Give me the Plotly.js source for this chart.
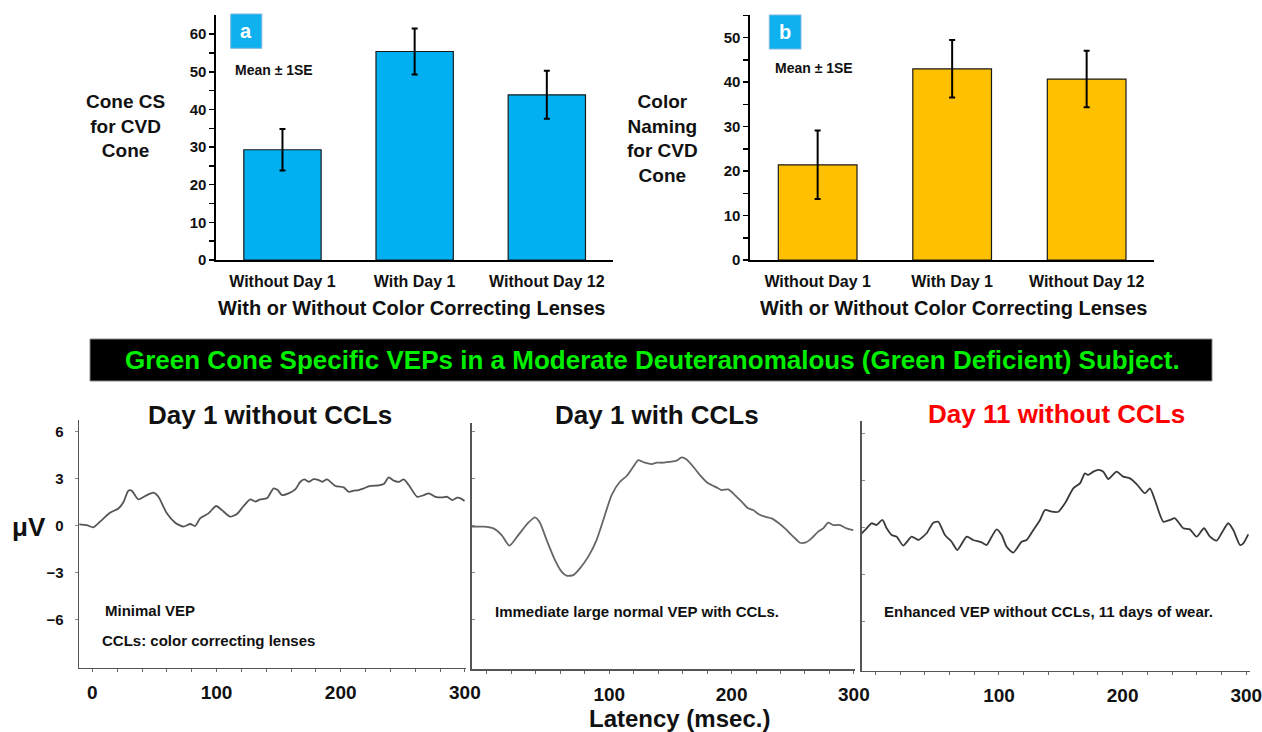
<!DOCTYPE html>
<html>
<head>
<meta charset="utf-8">
<script src="https://cdn.plot.ly/plotly-3.0.1.min.js"></script>
<style>
html,body{margin:0;padding:0;background:#fff;}
#chart{width:1262px;height:732px;}
</style>
</head>
<body>
<div id="chart"></div>
<script>
// ---------- DATA ----------
const categories = ['Without Day 1', 'With Day 1', 'Without Day 12'];
const coneCS = [29.3, 55.4, 43.9];
const coneCSErr = [5.5, 6.1, 6.4];
const colorNaming = [21.4, 43.0, 40.7];
const colorNamingErr = [7.7, 6.45, 6.35];

const barTicks = [0, 5, 10, 15, 20, 25, 30, 35, 40, 45, 50, 55, 60];
const vepYTicks = [-6, -3, 0, 3, 6];
const latencyTicks = [0, 20, 40, 60, 80, 100, 120, 140, 160, 180, 200, 220, 240, 260, 280, 300];

// Day 1 without CCLs
const day1WithoutLat = [-11.3, -4.6, 0.8, 6.2, 14.2, 21, 25, 29, 31.7, 37, 42.5, 49.2, 53.2, 60, 66.7, 73.4, 78.8, 82.8, 86.8, 93.5, 99.7, 104.3, 111, 116.4, 121.8, 127.2, 131.2, 135.2, 140.6, 146, 149.2, 152.7, 158, 163.4, 167.5, 170.7, 174.2, 178.2, 182.3, 185, 189, 195.7, 202.4, 206.5, 210.5, 214.5, 218.5, 224, 230.6, 234.7, 238.7, 242.7, 246.8, 250.8, 254.8, 261.6, 267, 271, 276.3, 281.7, 285.8, 289.8, 293.8, 296.5, 299.7];
const day1WithoutAmp = [0.09, 0.04, -0.1, 0.26, 0.83, 1.1, 1.5, 2.24, 2.24, 1.68, 1.9, 2.11, 1.85, 0.79, 0.19, -0.06, 0.11, -0.02, 0.47, 0.79, 1.26, 1.0, 0.58, 0.75, 1.26, 1.68, 1.54, 1.68, 1.75, 2.39, 2.28, 1.96, 2.07, 2.32, 2.81, 2.96, 2.81, 2.98, 2.92, 2.81, 2.96, 2.54, 2.45, 2.17, 2.24, 2.28, 2.39, 2.54, 2.58, 2.67, 3.09, 2.88, 2.81, 2.96, 2.6, 1.85, 1.96, 2.07, 1.85, 1.81, 1.85, 1.64, 1.79, 1.75, 1.58];

// Day 1 with CCLs
const day1WithLat = [-12.5, -3, 5.2, 12, 18.3, 25.6, 33.8, 39.2, 43.3, 48.8, 55.6, 61, 65.1, 70.6, 76, 82.8, 89.6, 95.1, 101.9, 108.7, 114.2, 119.6, 123.7, 129.2, 134.6, 138.7, 144.1, 149.6, 155, 159.1, 163.2, 168.7, 174.1, 180.9, 187.7, 191.8, 197.3, 202.7, 208.2, 213.6, 217.7, 221.8, 227.2, 232.7, 238.1, 243.6, 250.4, 255.9, 260, 265.4, 270.8, 274.9, 279, 283.1, 288.6, 294, 299.5];
const day1WithAmp = [-0.06, -0.06, -0.17, -0.6, -1.28, -0.6, 0.19, 0.53, 0.19, -0.92, -2.2, -2.94, -3.2, -3.16, -2.73, -1.98, -0.92, 0.36, 1.96, 2.81, 3.18, 3.77, 4.2, 4.03, 3.94, 4.03, 4.03, 4.09, 4.16, 4.37, 4.24, 3.77, 3.24, 2.71, 2.45, 2.28, 2.32, 1.96, 1.54, 1.11, 1.0, 0.75, 0.58, 0.47, 0.19, -0.17, -0.7, -1.09, -1.09, -0.81, -0.38, -0.17, 0.19, 0.04, 0.04, -0.17, -0.28];

// Day 11 without CCLs
const day11WithoutLat = [-11, -7, -3, 1.1, 5.7, 9.2, 13.2, 17.3, 22.6, 29.4, 34.8, 41.5, 46.9, 50.9, 56.3, 61.7, 66.3, 73.9, 79.2, 86, 90, 94.1, 98.1, 102.2, 106.2, 111.6, 118.3, 122.4, 127.8, 133.2, 137.2, 142.6, 148, 153.4, 160.1, 165.5, 169.5, 172.2, 176.3, 180.3, 184.4, 188.4, 195.1, 200.5, 205.9, 211.3, 218, 222.1, 226.1, 232.9, 238.3, 242.3, 249.1, 254.4, 259.8, 265.8, 270.6, 276, 280, 285.4, 289.5, 294.9, 297.6, 301.6];
const day11WithoutAmp = [-0.38, -0.06, 0.26, 0.15, 0.47, -0.06, -0.49, -0.6, -1.17, -0.6, -0.81, -0.38, 0.3, 0.36, -0.49, -0.92, -1.45, -0.6, -0.81, -0.96, -1.13, -0.6, -0.13, -0.49, -1.24, -1.62, -0.92, -0.81, -0.17, 0.47, 1.11, 1.0, 1.0, 1.54, 2.49, 2.81, 3.45, 3.35, 3.56, 3.67, 3.56, 3.09, 3.56, 3.24, 3.13, 2.77, 2.17, 2.49, 1.75, 0.36, 0.47, 0.58, -0.06, -0.13, -0.6, -0.06, -0.6, -0.85, -0.38, 0.26, -0.17, -1.13, -1.02, -0.45];

// ---------- LAYOUT HELPERS ----------
const W = 1262, H = 732;
const px = p => p / W;
const py = p => 1 - p / H;
const FONT = 'Liberation Sans, Arial, Helvetica, sans-serif';

const barTickText = barTicks.map(v => (v % 10 === 0 ? String(v) : ''));
const latText = (showZero) => latencyTicks.map(v => (v % 100 === 0 && (showZero || v !== 0)) ? String(v) : '');

const traces = [
  {
    type: 'bar', x: categories, y: coneCS, xaxis: 'x', yaxis: 'y',
    width: 0.585,
    marker: {color: '#00b0f0', line: {color: '#1a1a1a', width: 1.2}},
    error_y: {type: 'data', array: coneCSErr, visible: true, color: '#000', thickness: 2, width: 3},
    hoverinfo: 'x+y'
  },
  {
    type: 'bar', x: categories, y: colorNaming, xaxis: 'x2', yaxis: 'y2',
    width: 0.585,
    marker: {color: '#ffc000', line: {color: '#1a1a1a', width: 1.2}},
    error_y: {type: 'data', array: colorNamingErr, visible: true, color: '#000', thickness: 2, width: 3},
    hoverinfo: 'x+y'
  },
  {type: 'scatter', mode: 'lines', x: day1WithoutLat, y: day1WithoutAmp, xaxis: 'x3', yaxis: 'y3',
   line: {color: '#555', width: 1.8, shape: 'spline', smoothing: 0.6}},
  {type: 'scatter', mode: 'lines', x: day1WithLat, y: day1WithAmp, xaxis: 'x4', yaxis: 'y4',
   line: {color: '#666', width: 1.8, shape: 'spline', smoothing: 0.6}},
  {type: 'scatter', mode: 'lines', x: day11WithoutLat, y: day11WithoutAmp, xaxis: 'x5', yaxis: 'y5',
   line: {color: '#3a3a3a', width: 1.8, shape: 'spline', smoothing: 0.6}}
];

const barX = (dom, anchor) => ({
  domain: dom, anchor: anchor, range: [-0.5, 2.5], type: 'category',
  showline: true, linecolor: '#000', linewidth: 2, ticks: '', showgrid: false, zeroline: false,
  tickfont: {family: FONT, size: 16, color: '#111', weight: 'bold'}, ticklabelstandoff: 6, fixedrange: true
});
const barY = (dom, anchor, top) => ({
  domain: dom, anchor: anchor, range: [0, top],
  showline: true, linecolor: '#000', linewidth: 2, ticks: 'outside', ticklen: 5, tickwidth: 1.5, tickcolor: '#000',
  tickvals: barTicks, ticktext: barTickText, showgrid: false, zeroline: false,
  tickfont: {family: FONT, size: 15, color: '#111', weight: 'bold'}, ticklabelstandoff: 0, fixedrange: true
});
const vepX = (dom, anchor, range, showZero) => ({
  domain: dom, anchor: anchor, range: range,
  showline: true, linecolor: '#555', linewidth: 1.6, ticks: 'outside', ticklen: 3, tickwidth: 1, tickcolor: '#666',
  tickvals: latencyTicks, ticktext: latText(showZero), showgrid: false, zeroline: false,
  ticklabeloverflow: 'allow',
  tickfont: {family: FONT, size: 19, color: '#111', weight: 'bold'}, ticklabelstandoff: 4, fixedrange: true
});
const vepY = (dom, anchor, range, labels) => ({
  domain: dom, anchor: anchor, range: range,
  showline: true, linecolor: '#555', linewidth: 1.6, ticks: labels ? 'outside' : 'inside', ticklen: 3, tickwidth: 1, tickcolor: '#888',
  tickvals: vepYTicks, showticklabels: labels, showgrid: false, zeroline: false,
  tickfont: {family: FONT, size: 15, color: '#111', weight: 'bold'}, ticklabelstandoff: 8, fixedrange: true
});

const ann = (text, x, y, opts = {}) => Object.assign({
  text: text, x: px(x), y: py(y), xref: 'paper', yref: 'paper', showarrow: false,
  xanchor: 'center', yanchor: 'middle',
  font: {family: FONT, size: 15, color: '#111', weight: 'bold'}
}, opts);

const layout = {
  width: W, height: H,
  margin: {l: 0, r: 0, t: 0, b: 0},
  paper_bgcolor: '#fff', plot_bgcolor: 'rgba(0,0,0,0)',
  showlegend: false,
  font: {family: FONT, color: '#111'},
  xaxis: barX([px(216.4), px(612.9)], 'y'),
  yaxis: barY([py(260), py(15)], 'x', 65.1),
  xaxis2: barX([px(750.4), px(1153.9)], 'y2'),
  yaxis2: barY([py(260), py(15)], 'x2', 55.1),
  xaxis3: vepX([px(79.3), px(466)], 'y3', [-10.5, 300.9], true),
  yaxis3: vepY([py(667.7), py(420)], 'x3', [-9.08, 6.76], true),
  xaxis4: vepX([px(471.7), px(855)], 'y4', [-12.5, 300.9], false),
  yaxis4: vepY([py(669.3), py(422.7)], 'x4', [-9.19, 6.59], false),
  xaxis5: vepX([px(861.7), px(1250)], 'y5', [-11, 303], false),
  yaxis5: vepY([py(670.7), py(420.7)], 'x5', [-9.17, 6.82], false),
  shapes: [
    {type: 'rect', xref: 'paper', yref: 'paper', x0: px(230.7), x1: px(261.8), y0: py(48.3), y1: py(14),
     fillcolor: '#0fb0ee', line: {color: '#7fb8e0', width: 1}},
    {type: 'rect', xref: 'paper', yref: 'paper', x0: px(769.3), x1: px(801), y0: py(49), y1: py(15),
     fillcolor: '#0fb0ee', line: {color: '#7fb8e0', width: 1}},
    {type: 'rect', xref: 'paper', yref: 'paper', x0: px(90), x1: px(1212), y0: py(381), y1: py(339),
     fillcolor: '#000', line: {color: '#888', width: 1}}
  ],
  annotations: [
    ann('a', 246.3, 31, {font: {family: FONT, size: 20, color: '#fff', weight: 'bold'}}),
    ann('b', 785.2, 32, {font: {family: FONT, size: 20, color: '#fff', weight: 'bold'}}),
    ann('Mean ± 1SE', 233, 70, {xanchor: 'left', font: {family: FONT, size: 14, color: '#111', weight: 'bold'}}),
    ann('Mean ± 1SE', 773, 68, {xanchor: 'left', font: {family: FONT, size: 14, color: '#111', weight: 'bold'}}),
    ann('Cone CS<br>for CVD<br>Cone', 125.4, 126, {font: {family: FONT, size: 19, color: '#111', weight: 'bold'}}),
    ann('Color<br>Naming<br>for CVD<br>Cone', 663, 138, {font: {family: FONT, size: 19, color: '#111', weight: 'bold'}}),
    ann('With or Without Color Correcting Lenses', 411, 308, {font: {family: FONT, size: 20, color: '#111', weight: 'bold'}}),
    ann('With or Without Color Correcting Lenses', 953, 308, {font: {family: FONT, size: 20, color: '#111', weight: 'bold'}}),
    ann('Green Cone Specific VEPs in a Moderate Deuteranomalous (Green Deficient) Subject.', 652, 360,
        {font: {family: FONT, size: 26, color: '#00ee00', weight: 'bold'}}),
    ann('Day 1 without CCLs', 270, 415, {font: {family: FONT, size: 26, color: '#111', weight: 'bold'}}),
    ann('Day 1 with CCLs', 656.7, 415, {font: {family: FONT, size: 26, color: '#111', weight: 'bold'}}),
    ann('Day 11 without CCLs', 1056.7, 414, {font: {family: FONT, size: 26, color: '#ff0000', weight: 'bold'}}),
    ann('μV', 29, 527, {font: {family: FONT, size: 26, color: '#111', weight: 'bold'}}),
    ann('Latency (msec.)', 679, 718, {font: {family: FONT, size: 24, color: '#111', weight: 'bold'}}),
    ann('Minimal VEP', 102.7, 610, {xanchor: 'left'}),
    ann('CCLs: color correcting lenses', 100, 640, {xanchor: 'left'}),
    ann('Immediate large normal VEP with CCLs.', 493.3, 611, {xanchor: 'left'}),
    ann('Enhanced VEP without CCLs, 11 days of wear.', 881.7, 611, {xanchor: 'left'})
  ]
};

Plotly.newPlot('chart', traces, layout, {displayModeBar: false, staticPlot: true});
</script>
</body>
</html>
